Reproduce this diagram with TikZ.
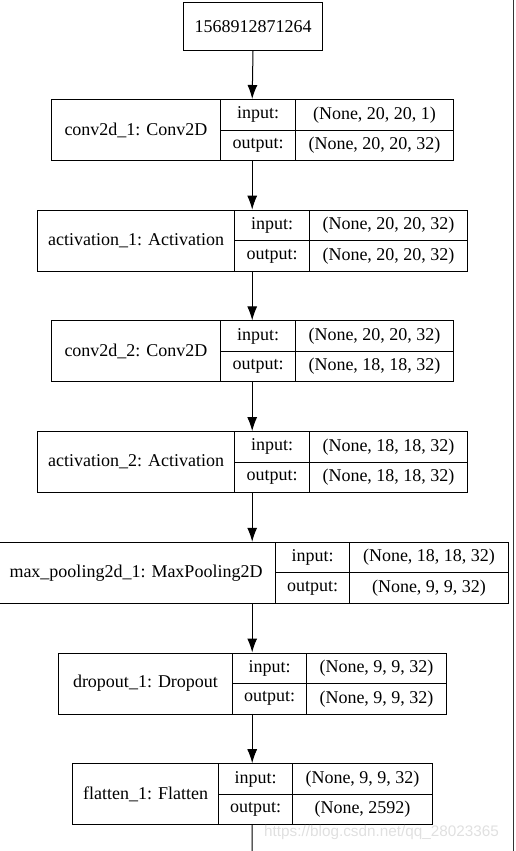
\documentclass[tikz,border=0pt]{standalone}
\usepackage{fontspec}
\setmainfont{Liberation Serif}
\newfontfamily\marksans{Liberation Sans}
\usetikzlibrary{arrows.meta}

\begin{document}
\begin{tikzpicture}[x=1pt,y=-1pt,
    cell/.style={draw, line width=1pt, inner sep=0pt, anchor=north west,
        font=\fontsize{18}{20}\selectfont},
    record/.style={inner sep=0pt, anchor=north west, minimum height=61},
    arr/.style={line width=1pt, -{Latex[length=14pt,width=10pt]}}]
    \useasboundingbox (0,0) rectangle (516,851);

    % Page edge
    \draw[line width=1.2pt, black!80] (513.5,0) -- (513.5,851);

    % Input id
    \node[cell, minimum width=139, minimum height=48] (L0) at (183,2) {1568912871264};

    % Layers
    \foreach \i/\y/\a/\b/\c/\d/\name/\inp/\outp in {
        1/99/51/220/295/453/{conv2d\_1: Conv2D}/{(None, 20, 20, 1)}/{(None, 20, 20, 32)},
        2/209.7/37/234/309/467/{activation\_1: Activation}/{(None, 20, 20, 32)}/{(None, 20, 20, 32)},
        3/320.4/51/220/295/453/{conv2d\_2: Conv2D}/{(None, 20, 20, 32)}/{(None, 18, 18, 32)},
        4/431.1/37/234/309/467/{activation\_2: Activation}/{(None, 18, 18, 32)}/{(None, 18, 18, 32)},
        5/541.8/-4/275/349/508/{max\_pooling2d\_1: MaxPooling2D}/{(None, 18, 18, 32)}/{(None, 9, 9, 32)},
        6/652.5/58/232/306/446/{dropout\_1: Dropout}/{(None, 9, 9, 32)}/{(None, 9, 9, 32)},
        7/763.2/72/218/292/432/{flatten\_1: Flatten}/{(None, 9, 9, 32)}/{(None, 2592)}} {
        \node[record, minimum width=\d-\a] (L\i) at (\a,\y) {};
        \node[cell, minimum width=\b-\a, minimum height=61] (N\i) at (\a,\y) {\name};
        \node[cell, minimum width=\c-\b, minimum height=30.5] (I\i) at (\b,\y) {input:};
        \node[cell, minimum width=\c-\b, minimum height=30.5] (O\i) at (\b,\y+30.5) {output:};
        \node[cell, minimum width=\d-\c, minimum height=30.5] (IV\i) at (\c,\y) {\inp};
        \node[cell, minimum width=\d-\c, minimum height=30.5] (OV\i) at (\c,\y+30.5) {\outp};
    }

    % Connections
    \foreach \i/\j in {0/1,1/2,2/3,3/4,4/5,5/6,6/7} {
        \draw[arr] (L\i.south) -- (L\j.north);
    }
    \coordinate (next) at (252,851);
    \draw[line width=1pt] (L7.south) -- (next);

    % Watermark
    \node[text=black!12, font=\marksans\fontsize{15.3}{17}\selectfont, anchor=west, inner sep=0pt] (mark) at (264,833)
        {https://blog.csdn.net/qq\_28023365};
\end{tikzpicture}
\end{document}
